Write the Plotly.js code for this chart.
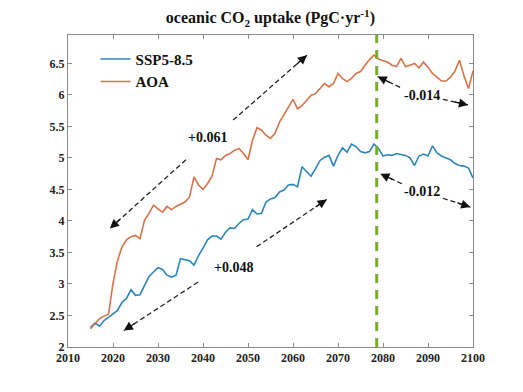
<!DOCTYPE html>
<html><head><meta charset="utf-8">
<script src="https://cdn.plot.ly/plotly-3.0.1.min.js"></script>
<style>body{margin:0;background:#fff}#chart{width:523px;height:392px}</style>
</head><body><div id="chart"></div>
<script>
const years = [2015,2016,2017,2018,2019,2020,2021,2022,2023,2024,2025,2026,2027,2028,2029,2030,2031,2032,2033,2034,2035,2036,2037,2038,2039,2040,2041,2042,2043,2044,2045,2046,2047,2048,2049,2050,2051,2052,2053,2054,2055,2056,2057,2058,2059,2060,2061,2062,2063,2064,2065,2066,2067,2068,2069,2070,2071,2072,2073,2074,2075,2076,2077,2078,2079,2080,2081,2082,2083,2084,2085,2086,2087,2088,2089,2090,2091,2092,2093,2094,2095,2096,2097,2098,2099,2100];
const ssp585 = [2.31,2.38,2.33,2.42,2.47,2.53,2.58,2.71,2.77,2.91,2.82,2.83,2.97,3.12,3.19,3.26,3.23,3.14,3.11,3.14,3.40,3.39,3.37,3.30,3.45,3.57,3.70,3.76,3.76,3.71,3.82,3.89,3.88,3.96,4.02,4.03,4.18,4.11,4.12,4.30,4.35,4.37,4.46,4.49,4.57,4.58,4.54,4.86,4.78,4.71,4.83,4.96,5.01,5.04,4.87,5.04,5.16,5.09,5.22,5.18,5.10,5.08,5.10,5.22,5.15,5.03,5.05,5.04,5.07,5.05,5.04,5.00,4.88,5.03,5.06,5.03,5.19,5.08,5.03,5.00,4.97,4.91,4.88,4.87,4.84,4.68];
const aoa = [2.29,2.37,2.45,2.49,2.52,3.01,3.37,3.59,3.70,3.75,3.77,3.72,4.01,4.12,4.25,4.19,4.14,4.23,4.18,4.23,4.27,4.30,4.38,4.70,4.57,4.50,4.59,4.71,4.99,4.97,5.04,5.07,5.12,5.15,5.07,4.97,5.28,5.48,5.44,5.36,5.31,5.39,5.57,5.69,5.81,5.93,5.78,5.83,5.91,5.99,6.02,6.10,6.18,6.13,6.18,6.34,6.26,6.21,6.26,6.34,6.37,6.47,6.56,6.63,6.57,6.54,6.52,6.47,6.45,6.58,6.45,6.47,6.50,6.43,6.52,6.44,6.34,6.28,6.22,6.22,6.28,6.38,6.55,6.30,6.10,6.38];
const seriesNames = ['SSP5-8.5','AOA'];
const peakYear = [2078.6];
// trend arrows: label, label position, segments [tail (near label) -> head]
const trendLabels = ['+0.061','+0.048','-0.014','-0.012'];
const labelX = [2040.9,2046.7,2088.6,2088.7];
const labelY = [5.33,3.26,5.99,4.46];
const segTailX = [[2036.2,2046.7],[2038.9,2051.9],[2083.8,2093.3],[2084.2,2093.3]];
const segTailY = [[4.97,5.60],[3.03,3.59],[6.12,5.93],[4.59,4.36]];
const segHeadX = [[2019.3,2063.1],[2022.4,2067.5],[2078.8,2098.9],[2079.4,2099.4]];
const segHeadY = [[3.88,6.63],[2.26,4.34],[6.29,5.84],[4.75,4.22]];

const FONT = 'Liberation Serif, "DejaVu Serif", serif';
const X_RANGE = [2010, 2100], Y_RANGE = [2, 6.95];
const M = {l: 68, r: 50, t: 35, b: 45}, W = 523, H = 392;
const pxX = (W - M.l - M.r) / (X_RANGE[1] - X_RANGE[0]);
const pxY = (H - M.t - M.b) / (Y_RANGE[1] - Y_RANGE[0]);

const traces = [
  {x: years, y: ssp585, name: seriesNames[0], type: 'scatter', mode: 'lines', line: {color: '#2a86bd', width: 1.6}},
  {x: years, y: aoa, name: seriesNames[1], type: 'scatter', mode: 'lines', line: {color: '#d87348', width: 1.6}}
];
const shapes = [{type: 'line', xref: 'x', yref: 'paper', x0: peakYear[0], x1: peakYear[0], y0: 0, y1: 1,
  line: {color: '#77ac30', width: 3, dash: '9px,7px'}}];
const annotations = [];
for (let i = 0; i < trendLabels.length; i++) {
  annotations.push({x: labelX[i], y: labelY[i], xref: 'x', yref: 'y', text: '<b>' + trendLabels[i] + '</b>',
    showarrow: false, font: {family: FONT, size: 14, color: '#111'}});
  for (let j = 0; j < 2; j++) {
    const tx = segTailX[i][j], ty = segTailY[i][j], hx = segHeadX[i][j], hy = segHeadY[i][j];
    shapes.push({type: 'line', xref: 'x', yref: 'y', x0: tx, y0: ty, x1: hx, y1: hy,
      line: {color: '#222', width: 1.3, dash: '5px,3px'}});
    const dx = (tx - hx) * pxX, dy = -(ty - hy) * pxY;
    const len = Math.hypot(dx, dy), L = 14;
    annotations.push({x: hx, y: hy, ax: dx / len * L, ay: dy / len * L, xref: 'x', yref: 'y',
      text: '', font: {size: 1}, borderpad: 0, showarrow: true, arrowhead: 2, arrowsize: 1.4, arrowwidth: 1.3,
      arrowcolor: '#111', standoff: 0, startstandoff: 0});
  }
}
const axisCommon = {showgrid: false, zeroline: false, showline: true, linecolor: '#8a8a8a', linewidth: 1,
  mirror: 'ticks', ticks: 'inside', ticklen: 4, tickcolor: '#8a8a8a',
  tickfont: {family: FONT, size: 12, color: '#222', weight: 'bold'}};
const layout = {
  width: W, height: H, paper_bgcolor: '#fff', plot_bgcolor: '#fff',
  margin: M,
  title: {text: '<b>oceanic CO<sub>2</sub> uptake (PgC·yr<sup>-1</sup>)</b>', font: {family: FONT, size: 16, color: '#111'},
    x: 0.517, xanchor: 'center', y: 0.955, yanchor: 'middle'},
  xaxis: Object.assign({range: X_RANGE, dtick: 10, tick0: 2010}, axisCommon),
  yaxis: Object.assign({range: Y_RANGE, dtick: 0.5, tick0: 2}, axisCommon),
  showlegend: true,
  legend: {x: 0.068, y: 0.975, xanchor: 'left', yanchor: 'top', bgcolor: 'rgba(0,0,0,0)',
    font: {family: FONT, size: 15, color: '#111', weight: 'bold'}, tracegroupgap: 0},
  shapes: shapes, annotations: annotations
};
Plotly.newPlot('chart', traces, layout, {staticPlot: true, displayModeBar: false});
</script></body></html>
